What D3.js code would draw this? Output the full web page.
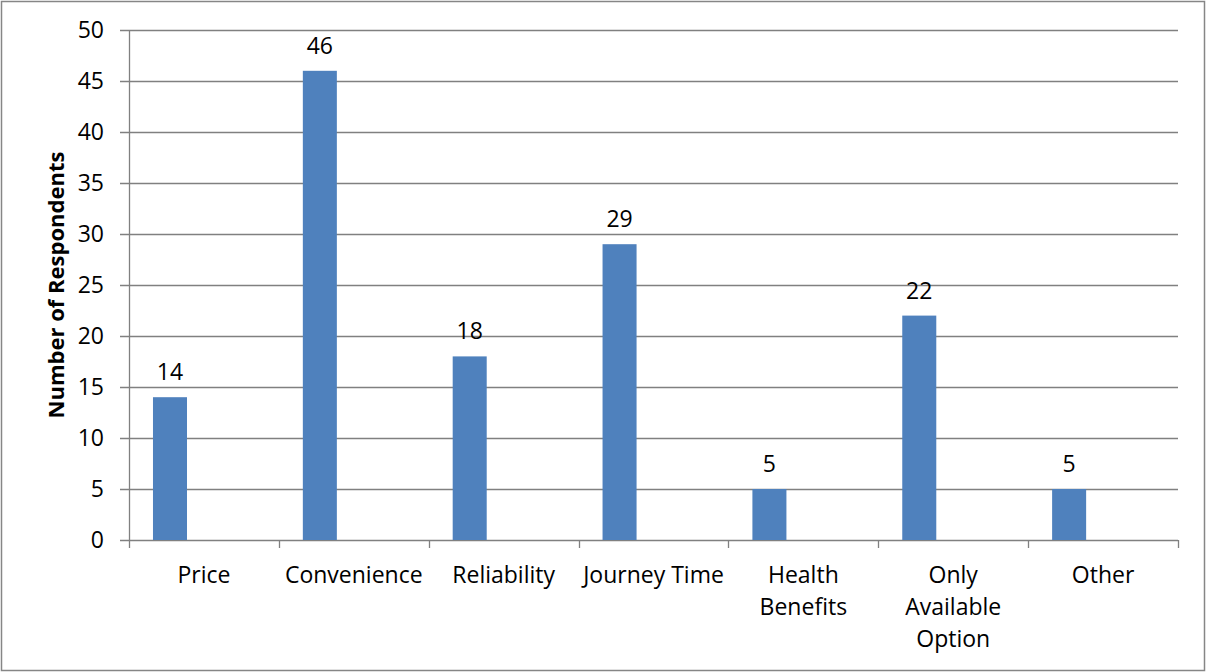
<!DOCTYPE html>
<html>
<head>
<meta charset="utf-8">
<script src="https://cdn.jsdelivr.net/npm/d3@7"></script>
<style>
  body { margin: 0; background: #fff; }
  text { font-family: "Open Sans", "Liberation Sans", sans-serif; fill: #000; }
</style>
</head>
<body>
<svg id="chart" width="1206" height="672"></svg>
<script>
const categories = ["Price", "Convenience", "Reliability", "Journey Time", "Health Benefits", "Only Available Option", "Other"];
const labelLines = [["Price"], ["Convenience"], ["Reliability"], ["Journey Time"], ["Health", "Benefits"], ["Only", "Available", "Option"], ["Other"]];
const respondents = [14, 46, 18, 29, 5, 22, 5];
const yTicks = [0, 5, 10, 15, 20, 25, 30, 35, 40, 45, 50];

const svg = d3.select("#chart");
const plotLeft = 129, plotRight = 1178, plotTop = 30, plotBottom = 540;

svg.append("rect")
    .attr("x", 1.5).attr("y", 1.5)
    .attr("width", 1203).attr("height", 669)
    .attr("fill", "#fff")
    .attr("stroke", "#868686")
    .attr("stroke-width", 1.5);

const x = d3.scaleBand().domain(categories).range([plotLeft, plotRight]);
const y = d3.scaleLinear().domain([0, 50]).range([plotBottom, plotTop]);

// gridlines
svg.append("g")
    .selectAll("line")
    .data(yTicks)
    .enter().append("line")
    .attr("x1", plotLeft - 9)
    .attr("x2", plotRight)
    .attr("y1", d => Math.round(y(d)) + 0.5)
    .attr("y2", d => Math.round(y(d)) + 0.5)
    .attr("stroke", "#808080")
    .attr("stroke-width", 1.3);

// y axis line
svg.append("line")
    .attr("x1", plotLeft + 0.5).attr("x2", plotLeft + 0.5)
    .attr("y1", plotTop).attr("y2", plotBottom)
    .attr("stroke", "#808080").attr("stroke-width", 1.3);

// y tick labels
svg.append("g")
    .selectAll("text")
    .data(yTicks)
    .enter().append("text")
    .attr("x", plotLeft - 25)
    .attr("y", d => y(d))
    .attr("dy", "0.35em")
    .attr("text-anchor", "end")
    .style("font-size", "23px")
    .text(d => d);

// category ticks
const bounds = categories.map(c => x(c)).concat([plotRight]);
svg.append("g")
    .selectAll("line")
    .data(bounds)
    .enter().append("line")
    .attr("x1", d => Math.round(d) + 0.5)
    .attr("x2", d => Math.round(d) + 0.5)
    .attr("y1", plotBottom)
    .attr("y2", plotBottom + 8)
    .attr("stroke", "#808080").attr("stroke-width", 1.3);

// bars
const bw = x.bandwidth();
svg.append("g")
    .selectAll("rect")
    .data(respondents)
    .enter().append("rect")
    .attr("x", (d, i) => x(categories[i]) + bw * 0.16)
    .attr("width", bw * 0.227)
    .attr("y", d => y(d))
    .attr("height", d => plotBottom - y(d))
    .attr("fill", "#4F81BD");

// value labels
svg.append("g")
    .selectAll("text")
    .data(respondents)
    .enter().append("text")
    .attr("x", (d, i) => x(categories[i]) + bw * (0.16 + 0.227 / 2))
    .attr("y", d => y(d) - 17)
    .attr("text-anchor", "middle")
    .style("font-size", "23px")
    .text(d => d);

// category labels
const catG = svg.append("g")
    .selectAll("text")
    .data(labelLines)
    .enter().append("text")
    .attr("text-anchor", "middle")
    .style("font-size", "23px");
catG.selectAll("tspan")
    .data((d, i) => d.map(l => ({ l: l, i: i })))
    .enter().append("tspan")
    .attr("x", d => x(categories[d.i]) + bw / 2)
    .attr("y", (d, j) => 583 + j * 32)
    .text(d => d.l);

// y title
svg.append("text")
    .attr("transform", "translate(64," + ((plotTop + plotBottom) / 2) + ") rotate(-90)")
    .attr("text-anchor", "middle")
    .style("font-size", "22px")
    .style("font-weight", "bold")
    .text("Number of Respondents");
</script>
</body>
</html>
